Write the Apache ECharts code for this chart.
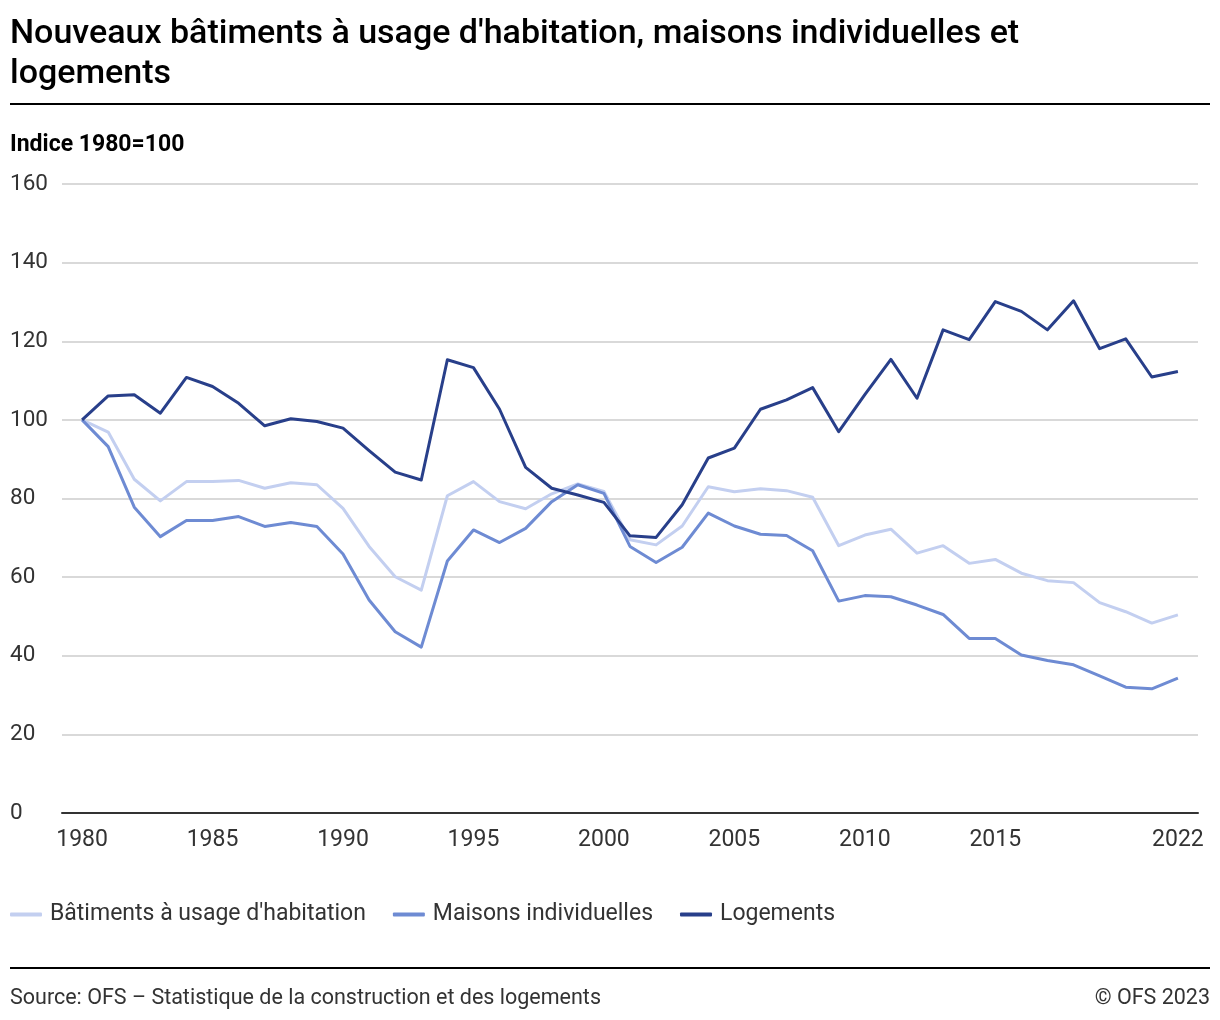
<!DOCTYPE html>
<html>
<head>
<meta charset="utf-8">
<script src="https://cdn.jsdelivr.net/npm/echarts@6/dist/echarts.min.js"></script>
<style>
html,body{margin:0;padding:0;background:#fff;}
#chart{width:1220px;height:1020px;}
</style>
</head>
<body>
<div id="chart"></div>
<script>
const years = [1980,1981,1982,1983,1984,1985,1986,1987,1988,1989,1990,1991,1992,1993,1994,1995,1996,1997,1998,1999,2000,2001,2002,2003,2004,2005,2006,2007,2008,2009,2010,2011,2012,2013,2014,2015,2016,2017,2018,2019,2020,2021,2022];
const batiments = [100,96.9,84.9,79.4,84.3,84.3,84.6,82.6,84.0,83.5,77.5,67.8,60.1,56.7,80.7,84.3,79.2,77.4,81.2,83.7,81.8,69.5,68.2,73.0,83.0,81.7,82.5,82.0,80.3,68.0,70.7,72.2,66.1,68.0,63.5,64.5,61.0,59.1,58.6,53.5,51.2,48.3,50.4];
const maisons = [100,93.2,77.8,70.3,74.4,74.4,75.4,72.9,73.9,72.9,65.9,54.2,46.1,42.2,64.1,72.0,68.8,72.4,79.2,83.5,81.3,67.8,63.7,67.6,76.3,73.0,70.9,70.6,66.7,53.9,55.3,55.0,52.9,50.5,44.4,44.4,40.2,38.8,37.7,34.9,32.0,31.6,34.3];
const logements = [100,106.1,106.4,101.7,110.8,108.5,104.2,98.5,100.3,99.6,97.9,92.2,86.7,84.7,115.3,113.3,102.7,87.9,82.6,80.9,79.0,70.5,70.1,78.4,90.3,92.8,102.7,105.1,108.2,97.0,106.4,115.4,105.5,122.9,120.4,130.1,127.6,122.9,130.3,118.1,120.6,110.9,112.3];
const xTickLabels = [1980,1985,1990,1995,2000,2005,2010,2015,2022];
const seriesNames = ["Bâtiments à usage d'habitation","Maisons individuelles","Logements"];
const colors = ["#c3cff0","#6e8bd3","#283f8a"];

const chart = echarts.init(document.getElementById('chart'), null, {renderer:'canvas'});
const font = 'Roboto, "Noto Sans", sans-serif';
const pair = arr => years.map((y,i)=>[y, arr[i]]);
const mk = (name, arr, color) => ({
  name, type:'line', data: pair(arr), symbol:'none', smooth:false,
  lineStyle:{color, width:3, join:'round'}, itemStyle:{color},
  emphasis:{disabled:true}, z: 3
});

chart.setOption({
  animation:false,
  textStyle:{fontFamily:font},
  title:{
    text:"Nouveaux bâtiments à usage d'habitation, maisons individuelles et\nlogements",
    left:10, top:14, padding:0,
    textStyle:{fontFamily:font, fontSize:34, fontWeight:500, color:'#000', lineHeight:40}
  },
  graphic:[
    {type:'rect', shape:{x:10, y:103, width:1200, height:2}, style:{fill:'#000'}},
    {type:'text', left:10, top:134, style:{text:'Indice 1980=100', font:'bold 23px '+font, fill:'#000'}},
    {type:'rect', shape:{x:10, y:967, width:1200, height:2}, style:{fill:'#000'}},
    {type:'text', left:10, top:988, style:{text:'Source: OFS – Statistique de la construction et des logements', font:'21.5px '+font, fill:'#333'}},
    {type:'text', right:10, top:988, style:{text:'© OFS 2023', font:'21.5px '+font, fill:'#333'}}
  ],
  legend:{
    left:10, top:903, itemGap:27, itemWidth:32, itemHeight:4, padding:0,
    icon:'roundRect',
    data: seriesNames.map((n,i)=>({name:n, itemStyle:{color:colors[i]}})),
    textStyle:{fontFamily:font, fontSize:23, color:'#333', padding:[0,0,0,3]}
  },
  grid:{left:62, right:22, top:184, bottom:207, containLabel:false},
  xAxis:{
    type:'value', min:1979.23, max:2022.77,
    splitLine:{show:false},
    axisTick:{show:false},
    axisLine:{show:true, lineStyle:{color:'#333', width:2}},
    axisLabel:{customValues:xTickLabels, fontSize:23, color:'#333', margin:16, fontFamily:font, formatter:v=>String(v)}
  },
  yAxis:{
    type:'value', min:0, max:160, interval:20,
    axisLine:{show:false}, axisTick:{show:false},
    splitLine:{lineStyle:{color:'#cccccc', width:1.5}},
    axisLabel:{align:'left', margin:52, fontSize:22.5, color:'#333', fontFamily:font}
  },
  series:[
    mk(seriesNames[0], batiments, colors[0]),
    mk(seriesNames[1], maisons, colors[1]),
    mk(seriesNames[2], logements, colors[2])
  ]
});
</script>
</body>
</html>
